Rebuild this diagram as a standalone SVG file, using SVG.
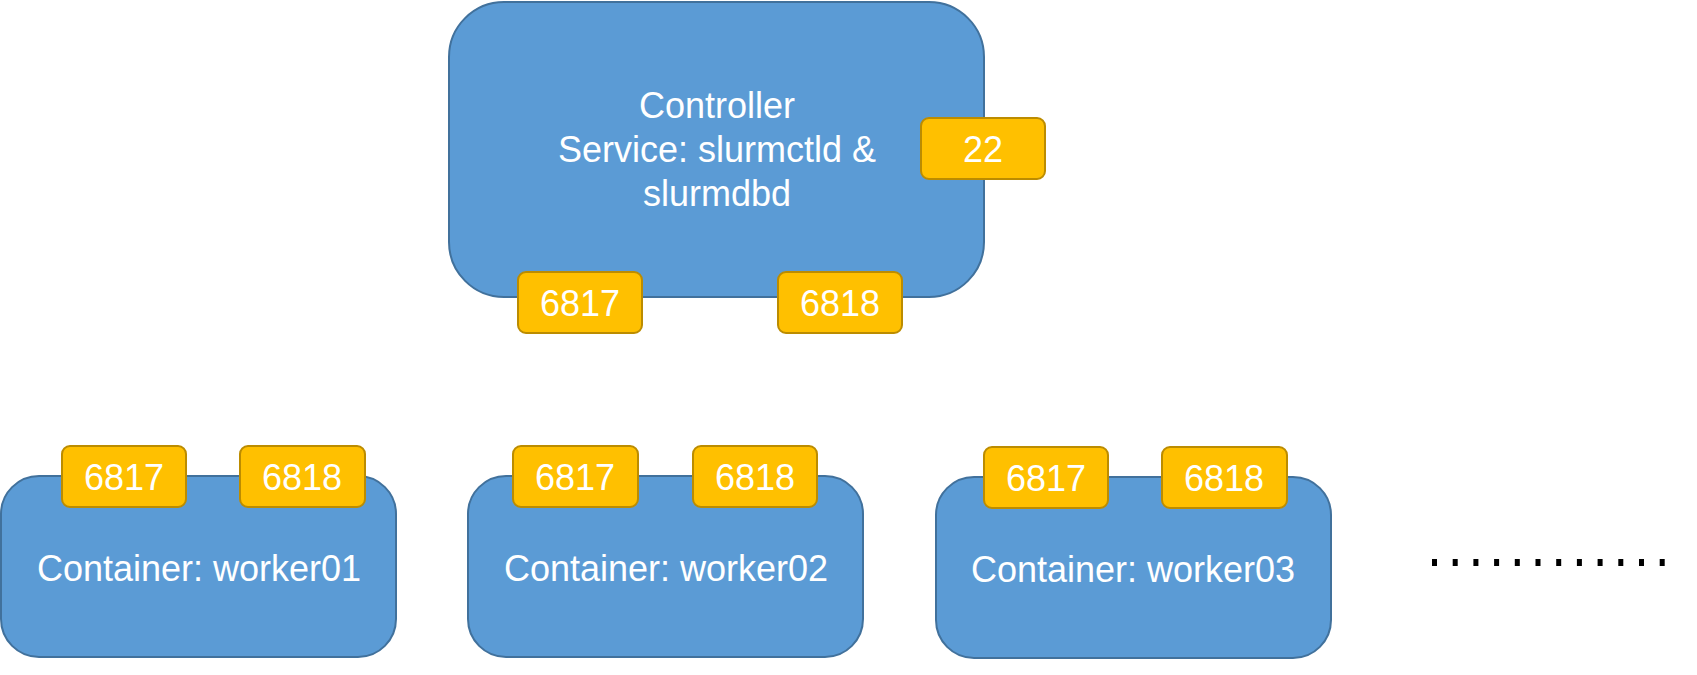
<svg xmlns="http://www.w3.org/2000/svg" width="1697" height="675" viewBox="0 0 1697 675">
<style>
.node{fill:#5B9BD5;stroke:#41719C;stroke-width:2}
.port{fill:#FFC000;stroke:#BC8C00;stroke-width:2}
.t{font-family:"Liberation Sans",Arial,sans-serif;font-size:36px;fill:#FFFFFF;text-anchor:middle}
</style>
<rect width="1697" height="675" fill="#FFFFFF"/>
<g id="controller">
<rect class="node" x="449" y="2" width="535" height="295" rx="55" ry="55"/>
<text class="t" x="717" y="118">Controller</text>
<text class="t" x="717" y="162">Service: slurmctld &amp;</text>
<text class="t" x="717" y="206">slurmdbd</text>
</g>
<g id="controller-port-22">
<rect class="port" x="921" y="118" width="124" height="61" rx="8" ry="8"/>
<text class="t" x="983" y="162">22</text>
</g>
<g id="controller-port-6817">
<rect class="port" x="518" y="272" width="124" height="61" rx="8" ry="8"/>
<text class="t" x="580" y="316">6817</text>
</g>
<g id="controller-port-6818">
<rect class="port" x="778" y="272" width="124" height="61" rx="8" ry="8"/>
<text class="t" x="840" y="316">6818</text>
</g>
<g id="worker01">
<rect class="node" x="1" y="476" width="395" height="181" rx="38" ry="38"/>
<text class="t" x="199" y="581">Container: worker01</text>
</g>
<g id="worker01-port-6817">
<rect class="port" x="62" y="446" width="124" height="61" rx="8" ry="8"/>
<text class="t" x="124" y="490">6817</text>
</g>
<g id="worker01-port-6818">
<rect class="port" x="240" y="446" width="125" height="61" rx="8" ry="8"/>
<text class="t" x="302" y="490">6818</text>
</g>
<g id="worker02">
<rect class="node" x="468" y="476" width="395" height="181" rx="38" ry="38"/>
<text class="t" x="666" y="581">Container: worker02</text>
</g>
<g id="worker02-port-6817">
<rect class="port" x="513" y="446" width="125" height="61" rx="8" ry="8"/>
<text class="t" x="575" y="490">6817</text>
</g>
<g id="worker02-port-6818">
<rect class="port" x="693" y="446" width="124" height="61" rx="8" ry="8"/>
<text class="t" x="755" y="490">6818</text>
</g>
<g id="worker03">
<rect class="node" x="936" y="477" width="395" height="181" rx="38" ry="38"/>
<text class="t" x="1133" y="582">Container: worker03</text>
</g>
<g id="worker03-port-6817">
<rect class="port" x="984" y="447" width="124" height="61" rx="8" ry="8"/>
<text class="t" x="1046" y="491">6817</text>
</g>
<g id="worker03-port-6818">
<rect class="port" x="1162" y="447" width="125" height="61" rx="8" ry="8"/>
<text class="t" x="1224" y="491">6818</text>
</g>
<g id="connectors">
<line x1="1432" y1="562.5" x2="1666" y2="562.5" stroke="#000000" stroke-width="7" stroke-dasharray="5 15.7"/>
</g>
</svg>
